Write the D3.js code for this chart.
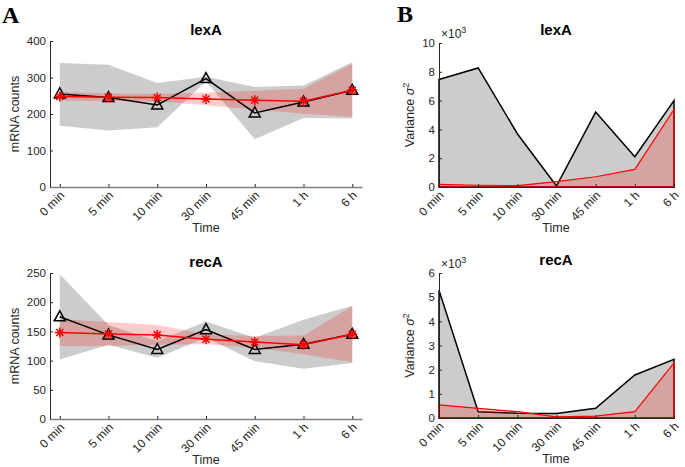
<!DOCTYPE html>
<html lang="en">
<head>
<meta charset="UTF-8">
<title>lexA / recA mRNA counts and variance</title>
<script src="https://d3js.org/d3.v7.min.js"></script>
<style>
  html, body { margin: 0; padding: 0; background: #fff; }
  svg { display: block; font-family: "Liberation Sans", Arial, sans-serif; }
  .tick text { fill: #262626; font-size: 11.5px; }
  .xt .tick text { font-size: 12px; }
  .tick line { stroke: #262626; }
  .lbl { fill: #262626; font-size: 12.5px; }
  .ttl { fill: #000; font-size: 15px; font-weight: bold; }
  .panel { font-family: "Liberation Serif", "Times New Roman", serif; font-weight: bold; font-size: 24px; }
</style>
</head>
<body>
<svg id="chart" width="685" height="467"></svg>
<script>
// time points (categorical)
const timeLabels = ["0 min", "5 min", "10 min", "30 min", "45 min", "1 h", "6 h"];

// lexA: measured counts (black) and model (red), with band edges
const lexaData     = [255, 245, 225, 297, 203, 233, 265];
const lexaDataLow  = [168, 155, 164, 290, 131, 189, 188];
const lexaDataHigh = [340, 335, 285, 302, 274, 278, 342];
const lexaModel     = [248, 246, 245, 241, 238, 235, 265];
const lexaModelLow  = [236, 236, 235, 224, 212, 201, 192];
const lexaModelHigh = [260, 256, 255, 258, 264, 269, 338];

// recA
const recaData     = [175, 144, 119, 153, 119, 128, 145];
const recaDataLow  = [102, 127, 105, 139, 99, 86, 96];
const recaDataHigh = [248, 161, 133, 167, 139, 170, 194];
const recaModel     = [148, 145.5, 144, 136.5, 132, 127, 145];
const recaModelLow  = [125, 125, 127, 128, 122, 111, 97];
const recaModelHigh = [171, 166, 161, 145, 142, 143, 193];

// variances
const lexaVarData  = [7460, 8270, 3700, 70, 5200, 2100, 6000];
const lexaVarModel = [180, 120, 100, 370, 710, 1220, 5380];
const recaVarData  = [5290, 260, 200, 190, 400, 1780, 2430];
const recaVarModel = [540, 400, 260, 50, 80, 260, 2280];

const countTicksLexa = [0, 100, 200, 300, 400];
const countTicksReca = [0, 50, 100, 150, 200, 250];
const varTicksLexa = [0, 2000, 4000, 6000, 8000, 10000];
const varTicksReca = [0, 1000, 2000, 3000, 4000, 5000, 6000];

const svg = d3.select("#chart");
svg.append("rect").attr("width", 685).attr("height", 467).attr("fill", "#fff");

const gray = "#cccccc";
const pink = "rgba(255,0,0,0.2)";

const triPath = "M0,-6L5.5,4L-5.5,4Z";
const starPath = "M-5,0L5,0M0,-5L0,5M-3.5,-3.5L3.5,3.5M-3.5,3.5L3.5,-3.5";

// rotated time labels, ending just under each tick
function xLabels(ax) {
  ax.attr("class", "xt");
  ax.selectAll(".tick text")
    .attr("text-anchor", "end")
    .attr("x", 0).attr("y", 0).attr("dy", 0)
    .attr("transform", "translate(5,9) rotate(-45)");
}

function countPanel(o) {
  const x = d3.scaleLinear().domain([-0.2, 6.2]).range([50, 362]);
  const y = d3.scaleLinear().domain([0, o.ymax]).range([o.bottom, o.top]);
  const g = svg.append("g");

  const band = (lo, hi) => d3.area().x((d, i) => x(i)).y0((d, i) => y(lo[i])).y1((d, i) => y(hi[i]));
  g.append("path").datum(timeLabels).attr("d", band(o.dLow, o.dHigh)).attr("fill", gray);
  g.append("path").datum(timeLabels).attr("d", band(o.mLow, o.mHigh)).attr("fill", pink);

  const line = d3.line().x((d, i) => x(i)).y(d => y(d));
  g.append("path").datum(o.data).attr("d", line).attr("fill", "none").attr("stroke", "#000").attr("stroke-width", 1.5);
  g.selectAll(".tri").data(o.data).join("path")
    .attr("transform", (d, i) => `translate(${x(i)},${y(d)})`)
    .attr("d", triPath).attr("fill", "none").attr("stroke", "#000").attr("stroke-width", 1.5);
  g.append("path").datum(o.model).attr("d", line).attr("fill", "none").attr("stroke", "#ff0000").attr("stroke-width", 1.5);
  g.selectAll(".star").data(o.model).join("path")
    .attr("transform", (d, i) => `translate(${x(i)},${y(d)})`)
    .attr("d", starPath).attr("fill", "none").attr("stroke", "#ff0000").attr("stroke-width", 1.5);

  const ya = g.append("g").attr("transform", "translate(50,0)")
    .call(d3.axisLeft(y).tickValues(o.ticks).tickSizeInner(-3).tickSizeOuter(0).tickPadding(4));
  ya.select(".domain").attr("stroke", "#262626");

  const xa = g.append("g").attr("transform", `translate(0,${o.bottom})`)
    .call(d3.axisBottom(x).tickValues(d3.range(7)).tickFormat(i => timeLabels[i]).tickSizeInner(-3).tickSizeOuter(0));
  xa.select(".domain").attr("stroke", "#808080").attr("stroke-width", 1.5);
  xLabels(xa);

  g.append("text").attr("class", "ttl").attr("x", 206).attr("y", o.top - 6).attr("text-anchor", "middle").text(o.title);
  g.append("text").attr("class", "lbl").attr("transform", `translate(15,${(o.top + o.bottom) / 2}) rotate(-90)`)
    .attr("text-anchor", "middle").attr("dy", "0.35em").text("mRNA counts");
  g.append("text").attr("class", "lbl").attr("x", 206).attr("y", o.bottom + 45).attr("text-anchor", "middle").text("Time");
}

function varPanel(o) {
  const x = d3.scaleLinear().domain([0, 6]).range([439, 674]);
  const y = d3.scaleLinear().domain([0, o.ymax]).range([o.bottom, o.top]);
  const g = svg.append("g");

  const area = d3.area().x((d, i) => x(i)).y0(y(0)).y1(d => y(d));
  g.append("path").datum(o.data).attr("d", area).attr("fill", gray).attr("stroke", "#000").attr("stroke-width", 1.5);
  g.append("path").datum(o.model).attr("d", area).attr("fill", pink).attr("stroke", "#ff0000").attr("stroke-width", 1.2);

  const ya = g.append("g").attr("transform", "translate(439,0)")
    .call(d3.axisLeft(y).tickValues(o.ticks).tickFormat(d => d / 1000).tickSizeInner(-3).tickSizeOuter(0).tickPadding(4));
  ya.select(".domain").attr("stroke", "#262626");

  const xa = g.append("g").attr("transform", `translate(0,${o.bottom})`)
    .call(d3.axisBottom(x).tickValues(d3.range(7)).tickFormat(i => timeLabels[i]).tickSizeInner(-3).tickSizeOuter(0));
  xa.select(".domain").attr("stroke", "#262626");
  xLabels(xa);

  const ex = g.append("text").attr("class", "lbl").attr("x", 441).attr("y", o.top - 5).style("font-size", "12px");
  ex.append("tspan").text("\u00d710");
  ex.append("tspan").attr("dy", -5).style("font-size", "9px").text("3");

  g.append("text").attr("class", "ttl").attr("x", 556).attr("y", o.top - 8).attr("text-anchor", "middle").text(o.title);
  const yl = g.append("text").attr("class", "lbl").attr("transform", `translate(410,${(o.top + o.bottom) / 2}) rotate(-90)`)
    .attr("text-anchor", "middle").attr("dy", "0.35em");
  yl.append("tspan").text("Variance ");
  yl.append("tspan").style("font-style", "italic").text("\u03c3");
  yl.append("tspan").attr("dy", -5).style("font-size", "9px").text("2");
  g.append("text").attr("class", "lbl").attr("x", 556).attr("y", o.bottom + 45).attr("text-anchor", "middle").text("Time");
}

countPanel({ title: "lexA", top: 41, bottom: 187, ymax: 400, ticks: countTicksLexa,
  data: lexaData, dLow: lexaDataLow, dHigh: lexaDataHigh, model: lexaModel, mLow: lexaModelLow, mHigh: lexaModelHigh });
countPanel({ title: "recA", top: 273, bottom: 419, ymax: 250, ticks: countTicksReca,
  data: recaData, dLow: recaDataLow, dHigh: recaDataHigh, model: recaModel, mLow: recaModelLow, mHigh: recaModelHigh });
varPanel({ title: "lexA", top: 43, bottom: 187, ymax: 10000, ticks: varTicksLexa, data: lexaVarData, model: lexaVarModel });
varPanel({ title: "recA", top: 273, bottom: 418, ymax: 6000, ticks: varTicksReca, data: recaVarData, model: recaVarModel });

svg.append("text").attr("class", "panel").attr("x", 2).attr("y", 23).text("A");
svg.append("text").attr("class", "panel").attr("x", 397).attr("y", 22).text("B");
</script>
</body>
</html>
